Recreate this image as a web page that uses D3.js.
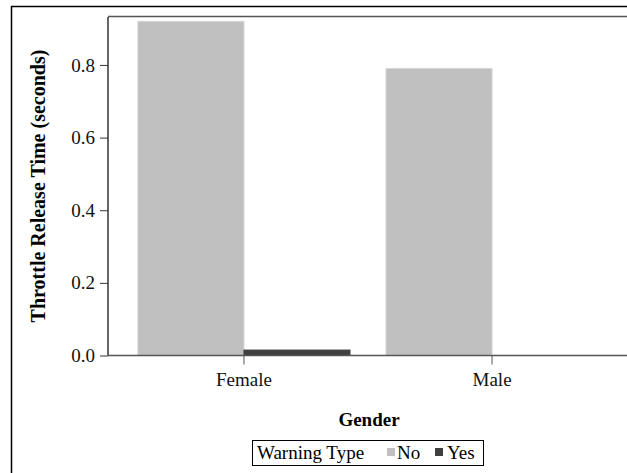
<!DOCTYPE html>
<html><head><meta charset="utf-8">
<script src="https://cdn.jsdelivr.net/npm/d3@7/dist/d3.min.js"></script>
<style>body{margin:0;background:#fff}svg{display:block}text{font-family:"Liberation Serif","Times New Roman",serif}</style>
</head><body><svg id="c" width="627" height="473"></svg>
<script>
const categories = ["Female", "Male"];
const warningTypes = ["No", "Yes"];
const valuesNo = [0.92, 0.79];
const valuesYes = [0.015, 0];
const yTicks = [0.0, 0.2, 0.4, 0.6, 0.8];
const colors = ["#c0c0c0", "#404040"];

const svg = d3.select("#c");
const W = 627, H = 473;
const innerBottom = 355.5;

svg.append("rect").attr("x",11.5).attr("y",6.5).attr("width",700).attr("height",600)
  .attr("fill","none").attr("stroke","#000").attr("stroke-width",1.5);

const x = d3.scaleBand().domain(categories).range([108, 628]).paddingInner(0).paddingOuter(0.048);
const xs = d3.scaleBand().domain(warningTypes).range([0, x.bandwidth()]).paddingInner(0).paddingOuter(0.17);
const y = d3.scaleLinear().domain([0, 0.932]).range([innerBottom, 17]);

// top frame line
svg.append("line").attr("x1",108).attr("x2",W).attr("y1",16.5).attr("y2",16.5)
  .attr("stroke","#555").attr("stroke-width",1.5);

const data = [];
categories.forEach((c,i)=>{
  data.push({cat:c, type:"No", v:valuesNo[i]});
  data.push({cat:c, type:"Yes", v:valuesYes[i]});
});

svg.append("g").selectAll("rect").data(data.filter(d=>d.v>0)).join("rect")
  .attr("x", d=> x(d.cat) + x.bandwidth()/2 + (d.type==="No" ? -xs.bandwidth() : 0))
  .attr("width", xs.bandwidth())
  .attr("y", d=> y(d.v))
  .attr("height", d=> y(0)-y(d.v))
  .attr("fill", d=> colors[warningTypes.indexOf(d.type)])
  .attr("stroke", d=> d.type==="No" ? "#d4d4d4" : "#404040")
  .attr("stroke-width", 1);

// y axis
const yAxis = d3.axisLeft(y).tickValues(yTicks).tickFormat(d3.format(".1f")).tickSize(8).tickPadding(5);
const gy = svg.append("g").attr("transform","translate(108,0)").call(yAxis);
gy.select(".domain").attr("stroke","#000").attr("stroke-width",1.2).attr("d","M0,17V"+innerBottom);
gy.selectAll(".tick line").attr("stroke","#333");
gy.selectAll(".tick text").attr("font-size",19).attr("fill","#111").attr("font-family","Liberation Serif");

// x axis
const xAxis = d3.axisBottom(x).tickSize(9).tickPadding(8);
const gx = svg.append("g").attr("transform",`translate(0,${innerBottom})`).call(xAxis);
gx.select(".domain").attr("stroke","#555").attr("stroke-width",1.5).attr("d","M108,0H"+W);
gx.selectAll(".tick line").attr("stroke","#555");
gx.selectAll(".tick")
  .attr("transform", d=> `translate(${x(d)+x.bandwidth()/2},0)`);
gx.selectAll(".tick text").attr("font-size",19).attr("fill","#111").attr("font-family","Liberation Serif");

// axis titles
svg.append("text").attr("transform","translate(45,186) rotate(-90)").attr("text-anchor","middle")
  .attr("font-size",20).attr("font-weight","bold").text("Throttle Release Time (seconds)");
svg.append("text").attr("x",369).attr("y",426).attr("text-anchor","middle")
  .attr("font-size",19).attr("font-weight","bold").text("Gender");

// legend
const lg = svg.append("g");
lg.append("rect").attr("x",252.5).attr("y",440.5).attr("width",231).attr("height",25)
  .attr("fill","#fff").attr("stroke","#000").attr("stroke-width",1);
lg.append("text").attr("x",257).attr("y",459).attr("font-size",19).text("Warning Type");
const items = [{t:"No", sx:387, tx:397},{t:"Yes", sx:435, tx:447}];
items.forEach((it,i)=>{
  lg.append("rect").attr("x",it.sx).attr("y",448).attr("width",8).attr("height",8).attr("fill",colors[i]);
  lg.append("text").attr("x",it.tx).attr("y",459).attr("font-size",19).text(warningTypes[i]);
});
</script></body></html>
